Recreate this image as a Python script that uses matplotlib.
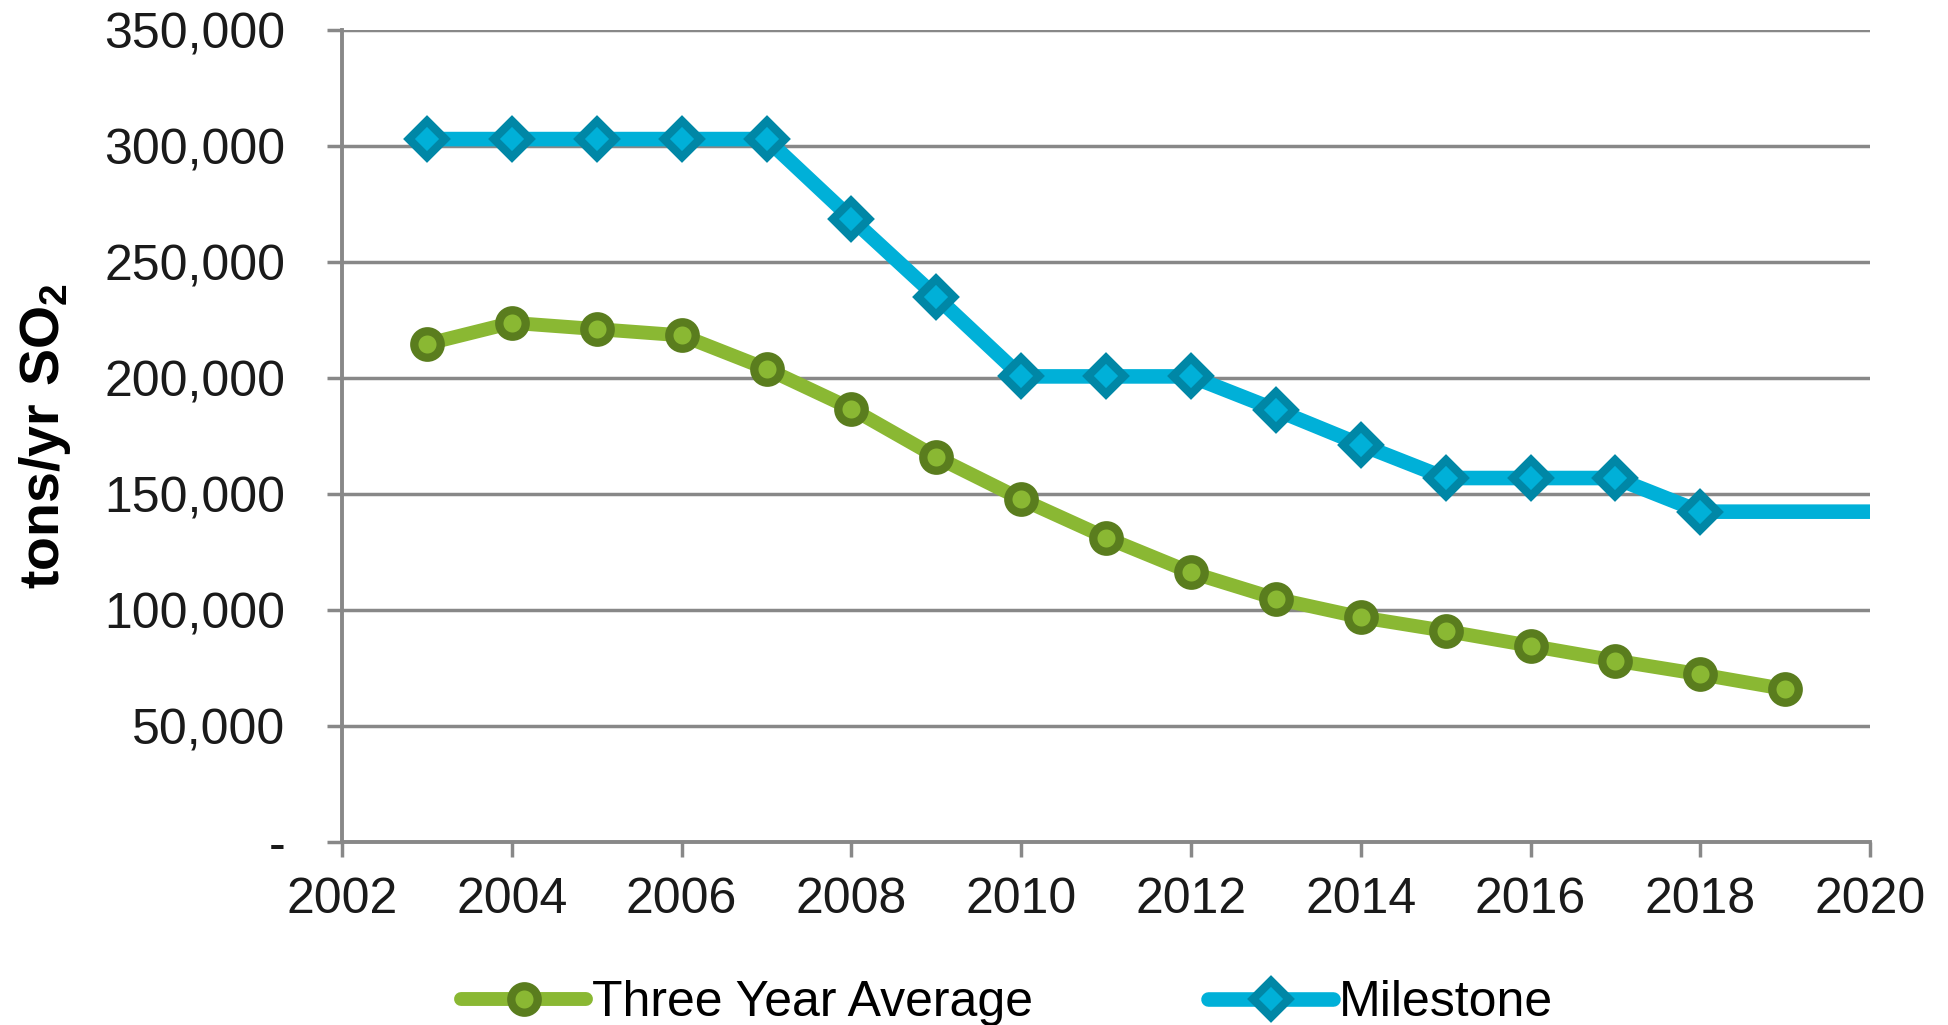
import matplotlib
matplotlib.use("Agg")
import matplotlib.pyplot as plt
from matplotlib.ticker import FuncFormatter

# data
years_avg = [2003, 2004, 2005, 2006, 2007, 2008, 2009, 2010, 2011, 2012,
             2013, 2014, 2015, 2016, 2017, 2018, 2019]
three_year_avg = [214700, 223800, 221100, 218400, 204000, 186800, 166000,
                  147800, 131200, 116200, 104900, 96900, 91000, 84600,
                  78200, 72300, 65900]

years_ms = [2003, 2004, 2005, 2006, 2007, 2008, 2009, 2010, 2011, 2012,
            2013, 2014, 2015, 2016, 2017, 2018, 2020]
milestone = [303000, 303000, 303000, 303000, 303000, 268700, 235000,
             200700, 200700, 200700, 186300, 171300, 156900, 156900,
             156900, 142400, 142400]

x_ticks = list(range(2002, 2021, 2))
y_ticks = list(range(0, 350001, 50000))

plt.rcParams['font.family'] = ['Liberation Sans', 'DejaVu Sans']
plt.rcParams['mathtext.fontset'] = 'custom'
plt.rcParams['mathtext.rm'] = 'Liberation Sans'
plt.rcParams['mathtext.bf'] = 'Liberation Sans:bold'

fig = plt.figure(figsize=(19.48, 10.25), dpi=100)
ax = fig.add_axes([0.1756, 0.1785, 0.7844, 0.7922])

grey = '#888888'
green = '#8ab833'
green_dk = '#5a7d1e'
blue = '#00b0d8'
blue_dk = '#0087a6'

ax.plot(years_avg, three_year_avg, color=green, lw=10, marker='o',
        ms=19, mew=6, mfc=green, mec=green_dk, label='Three Year Average',
        solid_capstyle='round', zorder=3)
ax.plot(years_ms, milestone, color=blue, lw=10.5, marker='D',
        ms=18, mew=6, mfc=blue, mec=blue_dk, markevery=list(range(len(years_ms) - 1)),
        label='Milestone', solid_capstyle='round', zorder=3)

ax.set_xlim(2002, 2020)
ax.set_ylim(0, 350000)
ax.set_xticks(x_ticks)
ax.set_yticks(y_ticks)
ax.yaxis.set_major_formatter(FuncFormatter(lambda v, p: '-' if v == 0 else f'{int(v):,}'))

ax.grid(axis='y', color=grey, lw=2.5)
ax.set_axisbelow(True)
for s in ['top', 'right']:
    ax.spines[s].set_visible(False)
for s in ['left', 'bottom']:
    ax.spines[s].set_color(grey)
    ax.spines[s].set_linewidth(2.8)
ax.tick_params(axis='both', colors=grey, length=11, width=2.5,
               labelsize=36, labelcolor='#1a1a1a')
ax.tick_params(axis='y', pad=30)
ax.tick_params(axis='x', pad=14)

ax.set_ylabel(r'$\mathbf{tons/yr\ SO_2}$', fontsize=40, labelpad=22)

fig.legend(loc='center', bbox_to_anchor=(0.517, 0.021), ncol=2, frameon=False,
           fontsize=36, handlelength=2.5, columnspacing=3.5, handletextpad=0.12,
           borderaxespad=0)

fig.savefig('out.png', dpi=100)
